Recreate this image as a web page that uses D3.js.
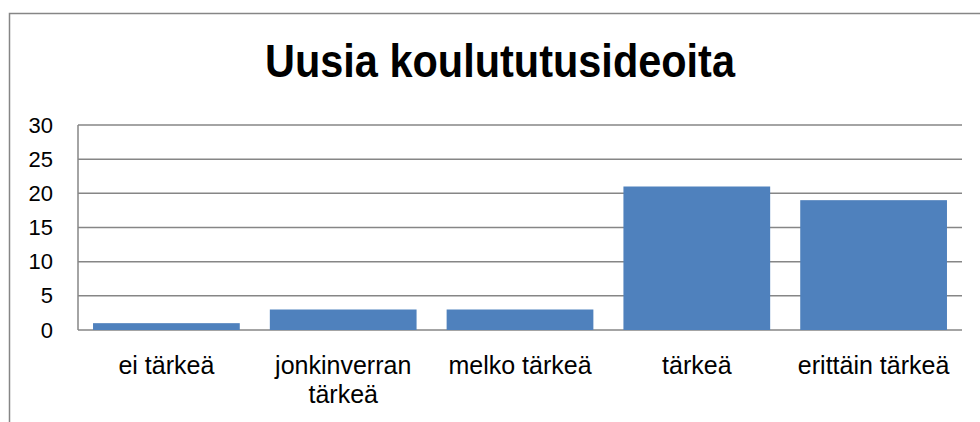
<!DOCTYPE html>
<html>
<head>
<meta charset="utf-8">
<script src="https://cdn.jsdelivr.net/npm/d3@7"></script>
<style>
  body { margin: 0; background: #fff; }
  svg text { font-family: "Liberation Sans", Arial, sans-serif; fill: #000; }
</style>
</head>
<body>
<svg id="chart"></svg>
<script>
// chart data
const categories = ["ei tärkeä", "jonkinverran tärkeä", "melko tärkeä", "tärkeä", "erittäin tärkeä"];
const values = [1, 3, 3, 21, 19];
const yTicks = [0, 5, 10, 15, 20, 25, 30];
const title = "Uusia koulututusideoita";

const width = 980, height = 422;
const svg = d3.select("#chart").attr("width", width).attr("height", height);

// outer frame, runs off the right and bottom edges
svg.append("rect")
  .attr("x", 9.5).attr("y", 13.5)
  .attr("width", 1000).attr("height", 500)
  .attr("fill", "#fff")
  .attr("stroke", "#868686")
  .attr("stroke-width", 1.5);

const plot = {left: 78, right: 962, top: 125, bottom: 330};

let x = d3.scaleBand()
  .domain(categories)
  .range([plot.left, plot.right])
  .paddingInner(0.17)
  .paddingOuter(0.085);

let y = d3.scaleLinear()
  .domain([0, 30])
  .range([plot.bottom, plot.top]);

// gridlines
svg.append("g")
  .selectAll("line")
  .data(yTicks)
  .join("line")
  .attr("x1", plot.left).attr("x2", plot.right)
  .attr("y1", d => y(d)).attr("y2", d => y(d))
  .attr("stroke", "#868686")
  .attr("stroke-width", 1.5);

// bars
svg.append("g")
  .selectAll("rect")
  .data(values)
  .join("rect")
  .attr("x", (d, i) => x(categories[i]))
  .attr("width", x.bandwidth())
  .attr("y", d => y(d))
  .attr("height", d => y(0) - y(d))
  .attr("fill", "#4F81BD");

// vertical axis line
svg.append("line")
  .attr("x1", plot.left).attr("x2", plot.left)
  .attr("y1", plot.top).attr("y2", plot.bottom)
  .attr("stroke", "#868686")
  .attr("stroke-width", 1.5);

// y tick labels
let yAxis = d3.axisLeft(y).tickValues(yTicks).tickSize(0).tickPadding(25);
let yg = svg.append("g").attr("transform", "translate(" + plot.left + ",0)").call(yAxis);
yg.select(".domain").remove();
yg.selectAll("text")
  .attr("font-size", 22)
  .attr("font-family", null);

// x labels, wrapped like the original
let xAxis = d3.axisBottom(x).tickSize(0).tickPadding(0);
let xg = svg.append("g").attr("transform", "translate(0," + plot.bottom + ")").call(xAxis);
xg.select(".domain").remove();
xg.selectAll("text")
  .attr("font-size", 25)
  .attr("font-family", null)
  .text(null)
  .each(function(d){
    let words = d == "jonkinverran tärkeä" ? ["jonkinverran", "tärkeä"] : [d];
    let t = d3.select(this).attr("dy", null).attr("y", 0);
    words.forEach((w, i) => {
      t.append("tspan").attr("x", 0).attr("y", 44 + i * 29).text(w);
    });
  });

// title
svg.append("text")
  .attr("x", 500)
  .attr("y", 77)
  .attr("text-anchor", "middle")
  .attr("font-size", 47)
  .attr("font-weight", "bold")
  .attr("textLength", 470)
  .attr("lengthAdjust", "spacingAndGlyphs")
  .text(title);
</script>
</body>
</html>
